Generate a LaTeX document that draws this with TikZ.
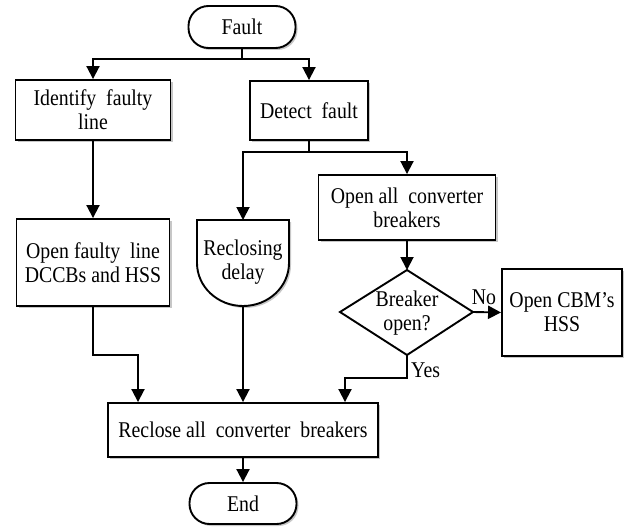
\documentclass[tikz,border=0pt]{standalone}
\usepackage{fontspec}
\setmainfont{Liberation Serif}[FakeStretch=0.88]
\usetikzlibrary{arrows.meta,shadows}
\begin{document}
\begin{tikzpicture}[x=1pt,y=-1pt,
  font=\fontsize{22.5}{24}\selectfont,
  shad/.style={drop shadow={shadow xshift=2pt,shadow yshift=-2pt,fill=black!22,opacity=1}},
  box/.style={draw,line width=1.9pt,fill=white,align=center,inner sep=0pt,shad},
  term/.style={box,rounded corners=20pt},
  ln/.style={line width=1.9pt},
  arr/.style={ln,-{Triangle[length=13pt,width=13pt]}},
  lbl/.style={inner sep=1pt}]
\useasboundingbox (0,0) rectangle (628,527);

\node[term,minimum width=107,minimum height=42] (fault) at (242,27) {Fault};
\node[box,minimum width=155,minimum height=60] (ident) at (93,110) {Identify\ \ faulty\\line};
\node[box,minimum width=118,minimum height=59] (detect) at (309,110.5) {Detect\ \ fault};
\node[box,minimum width=177,minimum height=65] (openall) at (407,207.5) {Open all\ \ converter\\breakers};
\node[box,minimum width=153,minimum height=87] (openfl) at (93,262.5) {Open faulty\ \ line\\DCCBs and HSS};
\draw[ln,fill=white,shad] (197,220) -- (289,220) -- (289,263) arc[start angle=0,end angle=180,x radius=46,y radius=43] -- cycle;
\node[align=center,inner sep=0pt] (delay) at (243,262) {Reclosing\\delay};
\coordinate (delaytop) at (243,220);
\coordinate (delaybot) at (243,306);
\draw[ln,fill=white] (407,270) coordinate (dtop) -- (473,312) coordinate (dright) -- (407,355) coordinate (dbot) -- (340,312) coordinate (dleft) -- cycle;
\node[align=center,inner sep=0pt] (dec) at (407,313) {Breaker\\open?};
\node[box,minimum width=120,minimum height=87] (cbm) at (562,312.5) {Open CBM's\\HSS};
\node[box,minimum width=270,minimum height=54] (reclose) at (243,430) {Reclose all\ \ converter\ \ breakers};
\node[term,minimum width=107,minimum height=41] (end) at (243,503.5) {End};

\coordinate (s1) at (242,59);
\draw[ln] (fault.south) -- (s1);
\draw[arr] (s1) -| (ident.north);
\draw[arr] (s1) -| (detect.north);

\coordinate (s2) at (309,152);
\draw[ln] (detect.south) -- (s2);
\draw[arr] (s2) -| (delaytop);
\draw[arr] (s2) -| (openall.north);

\draw[arr] (ident.south) -- (openfl.north);
\draw[arr] (openall.south) -- (dtop);
\draw[arr] (dright) -- (cbm.west);
\node[lbl,anchor=south] (no) at (484,306) {No};

\coordinate (j1) at (93,355);
\coordinate (j1b) at (138,355);
\draw[arr] (openfl.south) -- (j1) -- (j1b) -- (reclose.north -| j1b);
\draw[arr] (delaybot) -- (reclose.north -| delaybot);
\coordinate (j2) at (407,378);
\coordinate (j2b) at (345,378);
\draw[arr] (dbot) -- (j2) -- (j2b) -- (reclose.north -| j2b);
\node[lbl,anchor=west] (yes) at (410,370) {Yes};

\draw[arr] (reclose.south) -- (end.north);
\end{tikzpicture}
\end{document}
